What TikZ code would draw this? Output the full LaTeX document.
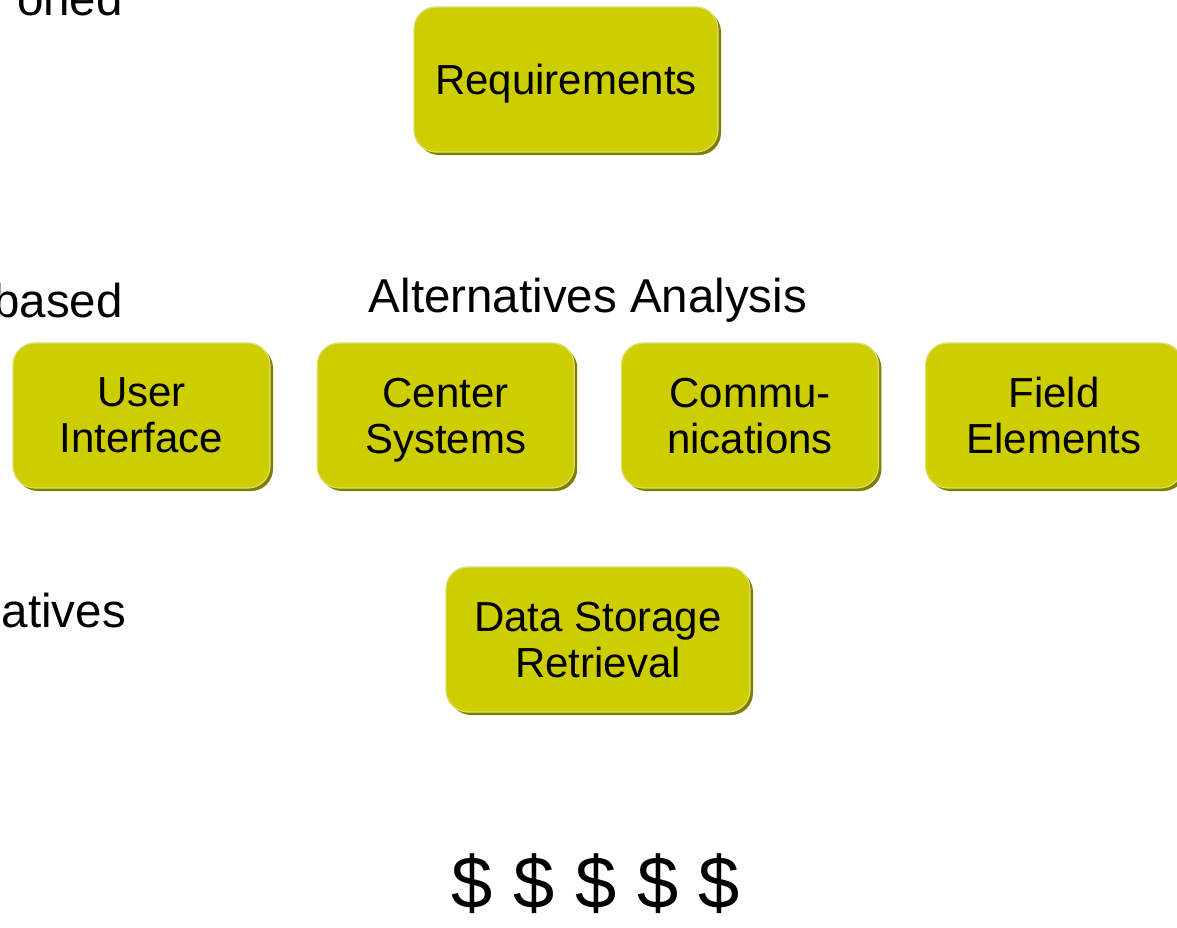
\documentclass[tikz,border=0pt]{standalone}
\usepackage{fontspec}
\setmainfont{Liberation Sans}
\usepackage{xcolor}
\usetikzlibrary{positioning, shadows}

\definecolor{boxfill}{RGB}{205,205,0}
\definecolor{boxedge}{RGB}{222,222,110}
\definecolor{boxshade}{RGB}{125,125,0}

\begin{document}
\begin{tikzpicture}[x=1pt, y=-1pt,
    box/.style={rectangle, rounded corners=22pt, fill=boxfill, draw=boxedge, line width=1.2pt,
        minimum width=257pt, minimum height=145pt, inner sep=0pt, align=center, text depth=0pt,
        font=\fontsize{42}{46}\selectfont,
        copy shadow={shadow xshift=3pt, shadow yshift=-3pt, fill=boxshade, draw=none}},
    widebox/.style={box, minimum width=304pt},
    label/.style={font=\fontsize{47.5}{52}\selectfont, inner sep=0pt}]
    \path[use as bounding box, clip] (0,0) rectangle (1177,927);

    	\node[widebox] (req) at (566,79.5) {Requirements};

    	\node[label, anchor=base] (alt) at (588,312) {Alternatives Analysis};
        \node[box] (ui) at (141.5,415.5) {User\\ Interface};
        \node[box] (cs) [right=46pt of ui] {Center\\ Systems};
        \node[box] (comm) [right=46pt of cs] {Commu-\\nications};
        \node[box] (fe) [right=46pt of comm] {Field\\ Elements};

        \node[widebox] (ds) at (598,639.5) {Data Storage\\ Retrieval};

        \node[label, font=\fontsize{74}{80}\selectfont] (cost) at (596,884) {\$ \$ \$ \$ \$};

    %	cut-off text at the left edge
        \node[label, anchor=base east] (t1) at (123,15) {oned};
        \node[label, anchor=base east] (t2) at (123,317) {based};
        \node[label, anchor=base east] (t3) at (126,627) {atives};

    \end{tikzpicture}
\end{document}
